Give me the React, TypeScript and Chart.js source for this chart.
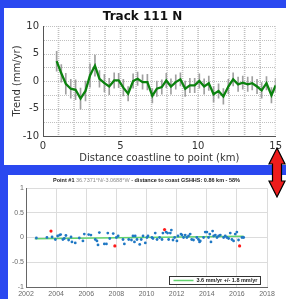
import React, { useEffect, useRef } from "react";
import { Chart, registerables } from "chart.js";

Chart.register(...registerables);

// ---------- Top chart: Track 111 N ----------
const trackTitle = "Track 111 N";
const trackXLabel = "Distance coastline to point (km)";
const trackYLabel = "Trend (mm/yr)";
const distanceKm = [0.88, 1.18, 1.47, 1.79, 2.1, 2.42, 2.74, 3.03, 3.35, 3.64, 3.96, 4.27, 4.59, 4.88, 5.18, 5.49, 5.81, 6.1, 6.42, 6.73, 7.05, 7.34, 7.66, 7.95, 8.25, 8.56, 8.86, 9.17, 9.47, 9.78, 10.08, 10.39, 10.69, 11.0, 11.32, 11.63, 11.95, 12.26, 12.58, 12.88, 13.2, 13.49, 13.8, 14.1, 14.41, 14.73, 15.0];
const trendMmYr = [3.6, 1.4, -0.5, -1.4, -1.6, -3.2, -1.8, 1.0, 2.8, 0.4, -0.4, -1.0, 0.1, 0.1, -1.2, -2.3, 0.0, 0.4, -0.2, -0.2, -2.7, -1.4, -1.1, 0.1, -1.0, -0.2, 0.3, -1.4, -0.8, -0.8, 0.0, -1.0, -0.4, -2.4, -1.8, -2.8, -1.0, 0.3, -0.6, -0.3, -0.6, -0.4, -1.0, -1.7, -0.4, -2.6, -0.8];
const trendErrMmYr = [1.8, 1.6, 1.9, 1.7, 1.8, 1.9, 1.8, 2.1, 1.9, 1.5, 1.6, 1.5, 1.4, 1.3, 1.5, 1.3, 1.3, 1.2, 1.3, 1.4, 1.3, 1.4, 1.3, 1.3, 1.4, 1.3, 1.2, 1.4, 1.3, 1.3, 1.3, 1.4, 1.3, 1.4, 1.3, 1.4, 1.3, 1.2, 1.3, 1.2, 1.3, 1.2, 1.3, 1.4, 1.2, 1.4, 1.3];
const KM_MIN = 0;
const KM_MAX = 15;
const KM_STEP = 1;
const TREND_MIN = -10;
const TREND_MAX = 10;
const TREND_STEP = 2.5;

// ---------- Bottom chart: Point #1 ----------
const pointTitleBold1 = "Point #1 ";
const pointTitleCoords = "36.7371°N/-3.0688°W";
const pointTitleBold2 = " - distance to coast GSHHS: 0.86 km - 58%";
const obsYears = [2002.69, 2003.39, 2003.73, 2003.95, 2004.1, 2004.23, 2004.3, 2004.45, 2004.54, 2004.65, 2004.83, 2004.99, 2005.05, 2005.27, 2005.54, 2005.78, 2005.87, 2006.16, 2006.31, 2006.6, 2006.71, 2006.78, 2006.87, 2007.2, 2007.34, 2007.43, 2007.56, 2007.79, 2008.0, 2008.12, 2008.44, 2008.53, 2008.82, 2009.0, 2009.1, 2009.2, 2009.25, 2009.37, 2009.55, 2009.65, 2009.77, 2009.92, 2010.03, 2010.1, 2010.36, 2010.43, 2010.58, 2010.7, 2010.87, 2011.03, 2011.09, 2011.3, 2011.4, 2011.47, 2011.58, 2011.65, 2011.76, 2011.87, 2012.02, 2012.09, 2012.29, 2012.36, 2012.46, 2012.57, 2012.68, 2012.79, 2012.9, 2013.0, 2013.12, 2013.34, 2013.45, 2013.52, 2013.57, 2013.79, 2013.9, 2014.01, 2014.12, 2014.2, 2014.28, 2014.39, 2014.46, 2014.57, 2014.68, 2014.79, 2014.9, 2015.12, 2015.23, 2015.34, 2015.45, 2015.56, 2015.67, 2015.78, 2015.89, 2016.0, 2016.11, 2016.34, 2016.45];
const obsHeights = [-0.01, 0, 0.01, -0.04, 0.03, 0.05, 0.06, -0.04, -0.02, 0.04, -0.05, 0.01, -0.09, -0.11, -0.01, -0.07, 0.07, 0.06, 0.05, -0.04, -0.07, -0.15, 0.1, -0.13, -0.13, 0.09, -0.02, 0.08, 0, 0.03, -0.04, -0.13, -0.04, -0.05, 0.03, -0.09, 0.03, -0.04, -0.14, -0.04, 0.03, -0.11, 0, 0.03, 0, -0.02, 0.09, -0.04, 0, -0.04, 0.09, 0.11, 0.09, -0.04, 0.09, 0.15, -0.05, 0, -0.07, 0.03, 0.07, 0.05, 0, 0.05, 0, 0.03, 0.07, -0.04, -0.05, 0, -0.04, -0.09, -0.07, 0, 0.11, 0.11, 0, 0.07, -0.09, 0.13, 0.03, 0.05, 0, 0.03, 0.05, 0, 0.03, 0, -0.02, 0.09, -0.04, -0.07, 0.07, 0.11, -0.05, 0, 0];
const outlierYears = [2003.66, 2007.9, 2011.2, 2016.18];
const outlierHeights = [0.13, -0.17, 0.16, -0.17];
const fitYears = [2002.58, 2016.45];
const fitHeights = [-0.025, 0.025];
const fitLabel = "3.6 mm/yr +/- 1.8 mm/yr";

const TOP_FONT = "'DejaVu Sans', sans-serif";
const BOT_FONT = "'Liberation Sans', Arial, sans-serif";

// Horizontal dotted grid drawn from the y scale's own ticks
const dottedHGridPlugin = {
  id: "dottedHGrid",
  beforeDatasetsDraw(chart: any) {
    const { ctx, chartArea: a, scales } = chart;
    const ys = scales.y;
    const left = Math.round(a.left);
    const right = Math.round(a.right);
    ctx.save();
    ctx.fillStyle = "#c0c0c0";
    const yVals: number[] = (ys.ticks || []).map((t: any) => Number(t.value));
    for (const v of yVals) {
      if (!(v > ys.min)) continue;
      const py = Math.round(ys.getPixelForValue(v));
      for (let x = left + 1; x < right; x += 2) ctx.fillRect(x, py, 1, 1);
    }
    ctx.restore();
  },
};

function makeDotPattern(color: string): any {
  const c = document.createElement("canvas");
  c.width = 1;
  c.height = 2;
  const g = c.getContext("2d")!;
  g.fillStyle = color;
  g.fillRect(0, 0, 1, 1);
  const main = document.createElement("canvas").getContext("2d")!;
  return main.createPattern(c, "repeat") || color;
}

function TrackChart() {
  const ref = useRef<HTMLCanvasElement>(null);
  useEffect(() => {
    const n = Math.min(distanceKm.length, trendMmYr.length, trendErrMmYr.length);
    const line: any[] = [];
    const bars: any[] = [];
    for (let i = 0; i < n; i++) {
      line.push({ x: distanceKm[i], y: trendMmYr[i] });
      bars.push({ x: distanceKm[i], y: [trendMmYr[i] - trendErrMmYr[i], trendMmYr[i] + trendErrMmYr[i]] });
    }
    // vertical grid lines at each x tick (dotted), drawn through the x scale
    const vGrid: any[] = [];
    for (let v = KM_MIN + KM_STEP; v <= KM_MAX; v += KM_STEP) {
      vGrid.push({ x: v, y: [TREND_MIN, TREND_MAX] });
    }
    const chart = new Chart(ref.current!, {
      type: "line",
      data: {
        datasets: [
          {
            type: "line",
            label: "Trend",
            data: line,
            borderColor: "#0b820e",
            borderWidth: 2.3,
            pointRadius: 0,
            tension: 0,
            order: 0,
          } as any,
          {
            type: "bar",
            label: "Error",
            data: bars,
            backgroundColor: "#a0a0a0",
            barThickness: 1,
            grouped: false,
            order: 1,
          } as any,
          {
            type: "bar",
            label: "Grid",
            data: vGrid,
            backgroundColor: makeDotPattern("#c0c0c0"),
            barThickness: 1,
            grouped: false,
            order: 2,
          } as any,
        ],
      },
      options: {
        responsive: false,
        animation: false,
        layout: { padding: { left: 0, right: 5, top: 0, bottom: 0 } },
        plugins: {
          legend: { display: false },
          tooltip: { enabled: false },
          title: {
            display: true,
            text: trackTitle,
            color: "#111",
            font: { family: TOP_FONT, size: 12, weight: "bold" },
            padding: { top: 1.5, bottom: 2.1 },
          },
        },
        scales: {
          x: {
            type: "linear",
            min: KM_MIN,
            max: KM_MAX,
            offset: false,
            ticks: {
              stepSize: KM_STEP,
              autoSkip: false,
              maxRotation: 0,
              padding: 4,
              color: "#333",
              font: { family: TOP_FONT, size: 10 },
              callback: (v: any) => (Number(v) % 5 === 0 ? String(v) : ""),
            },
            grid: { display: false, drawTicks: false },
            border: { display: true, color: "#555", width: 1 },
            title: {
              display: true,
              text: trackXLabel,
              color: "#333",
              font: { family: TOP_FONT, size: 10 },
              padding: { top: 0, bottom: 1 },
            },
            afterFit: (s: any) => {
              s.height = 29;
            },
          },
          y: {
            type: "linear",
            min: TREND_MIN,
            max: TREND_MAX,
            ticks: {
              stepSize: TREND_STEP,
              autoSkip: false,
              padding: 4,
              color: "#333",
              font: { family: TOP_FONT, size: 10 },
              callback: (v: any) => (Number(v) % 5 === 0 ? String(v) : ""),
            },
            grid: { display: false, drawTicks: false },
            border: { display: true, color: "#555", width: 1 },
            title: {
              display: true,
              text: trackYLabel,
              color: "#333",
              font: { family: TOP_FONT, size: 10 },
              padding: { top: 7, bottom: 0 },
            },
            afterFit: (s: any) => {
              s.width = 39;
            },
          },
        },
      } as any,
      plugins: [dottedHGridPlugin],
    });
    return () => chart.destroy();
  }, []);
  return <canvas ref={ref} width={282} height={157} style={{ display: "block" }} />;
}

const pointDecorPlugin = {
  id: "pointDecor",
  afterDraw(chart: any) {
    const { ctx, chartArea } = chart;
    ctx.save();
    const parts = [
      { text: pointTitleBold1, font: `bold 5.5px ${BOT_FONT}`, color: "#222" },
      { text: pointTitleCoords, font: `5.5px ${BOT_FONT}`, color: "#8a8a8a" },
      { text: pointTitleBold2, font: `bold 5.5px ${BOT_FONT}`, color: "#222" },
    ];
    let total = 0;
    const widths = parts.map((p) => {
      ctx.font = p.font;
      const w = ctx.measureText(p.text).width;
      total += w;
      return w;
    });
    let x = (chartArea.left + chartArea.right) / 2 - total / 2;
    const ty = chartArea.top - 7.5;
    ctx.textBaseline = "middle";
    ctx.textAlign = "left";
    parts.forEach((p, i) => {
      ctx.font = p.font;
      ctx.fillStyle = p.color;
      ctx.fillText(p.text, x, ty);
      x += widths[i];
    });
    const fit = chart.data.datasets.find((d: any) => d.label === fitLabel);
    if (fit) {
      ctx.font = `bold 5.5px ${BOT_FONT}`;
      const tw = ctx.measureText(fit.label).width;
      const boxW = 4 + 20 + 3 + tw + 3;
      const boxH = 8;
      const bx = Math.round(chartArea.right - 7 - boxW) + 0.5;
      const by = Math.round(chartArea.bottom - 3 - boxH) + 0.5;
      ctx.fillStyle = "#fff";
      ctx.fillRect(bx, by, boxW, boxH);
      ctx.strokeStyle = "#333";
      ctx.lineWidth = 1;
      ctx.strokeRect(bx, by, boxW, boxH);
      ctx.strokeStyle = fit.borderColor;
      ctx.lineWidth = 1.5;
      ctx.beginPath();
      ctx.moveTo(bx + 4, by + boxH / 2);
      ctx.lineTo(bx + 24, by + boxH / 2);
      ctx.stroke();
      ctx.fillStyle = "#222";
      ctx.fillText(fit.label, bx + 27, by + boxH / 2 + 0.3);
    }
    ctx.restore();
  },
};

function PointChart() {
  const ref = useRef<HTMLCanvasElement>(null);
  useEffect(() => {
    const obs = obsYears.slice(0, Math.min(obsYears.length, obsHeights.length)).map((x, i) => ({ x, y: obsHeights[i] }));
    const out = outlierYears.map((x, i) => ({ x, y: outlierHeights[i] }));
    const fit = fitYears.map((x, i) => ({ x, y: fitHeights[i] }));
    const tickFont = { family: BOT_FONT, size: 7 };
    const chart = new Chart(ref.current!, {
      type: "scatter",
      data: {
        datasets: [
          {
            label: fitLabel,
            data: fit,
            showLine: true,
            borderColor: "#63d36e",
            borderWidth: 1.5,
            pointRadius: 0,
            order: 2,
          },
          {
            label: "Observations",
            data: obs,
            backgroundColor: "#1f78c4",
            borderWidth: 0,
            pointRadius: 1.4,
            order: 1,
          },
          {
            label: "Outliers",
            data: out,
            backgroundColor: "#ff1a1a",
            borderWidth: 0,
            pointRadius: 1.6,
            order: 0,
          },
        ],
      },
      options: {
        responsive: false,
        animation: false,
        layout: { padding: { left: 0, right: 19, top: 13, bottom: 0 } },
        plugins: {
          legend: { display: false },
          tooltip: { enabled: false },
          title: { display: false },
        },
        scales: {
          x: {
            type: "linear",
            min: 2002,
            max: 2018,
            ticks: {
              stepSize: 2,
              autoSkip: false,
              maxRotation: 0,
              padding: 3,
              color: "#6a6a6a",
              font: tickFont,
              callback: (v: any) => String(v),
            },
            grid: { color: "#dcdcdc", lineWidth: 1, drawTicks: false },
            border: { display: true, color: "#666", width: 1 },
            afterFit: (s: any) => {
              s.height = 12;
            },
          },
          y: {
            type: "linear",
            min: -1,
            max: 1,
            ticks: {
              stepSize: 0.5,
              autoSkip: false,
              padding: 2,
              color: "#6a6a6a",
              font: tickFont,
              callback: (v: any) => String(v),
            },
            grid: { color: "#dcdcdc", lineWidth: 1, drawTicks: false },
            border: { display: true, color: "#666", width: 1 },
            afterFit: (s: any) => {
              s.width = 18;
            },
          },
        },
      } as any,
      plugins: [pointDecorPlugin],
    });
    return () => chart.destroy();
  }, []);
  return <canvas ref={ref} width={278} height={124} style={{ display: "block" }} />;
}

export default function App() {
  return (
    <div
      style={{
        position: "fixed",
        left: 0,
        top: 0,
        width: 286,
        height: 299,
        background: "#2a48f0",
        overflow: "hidden",
      }}
    >
      <div style={{ position: "absolute", left: 4, top: 8, width: 282, height: 157, background: "#fff" }}>
        <TrackChart />
      </div>
      <div style={{ position: "absolute", left: 8, top: 175, width: 278, height: 124, background: "#fff" }}>
        <PointChart />
      </div>
      <svg width={286} height={299} style={{ position: "absolute", left: 0, top: 0, pointerEvents: "none" }}>
        <polygon
          points="277,148 285,164 281.5,164 281.5,181 285,181 277,197 269,181 272.5,181 272.5,164 269,164"
          fill="#ee1c1c"
          stroke="#000"
          strokeWidth={1.2}
        />
      </svg>
    </div>
  );
}
